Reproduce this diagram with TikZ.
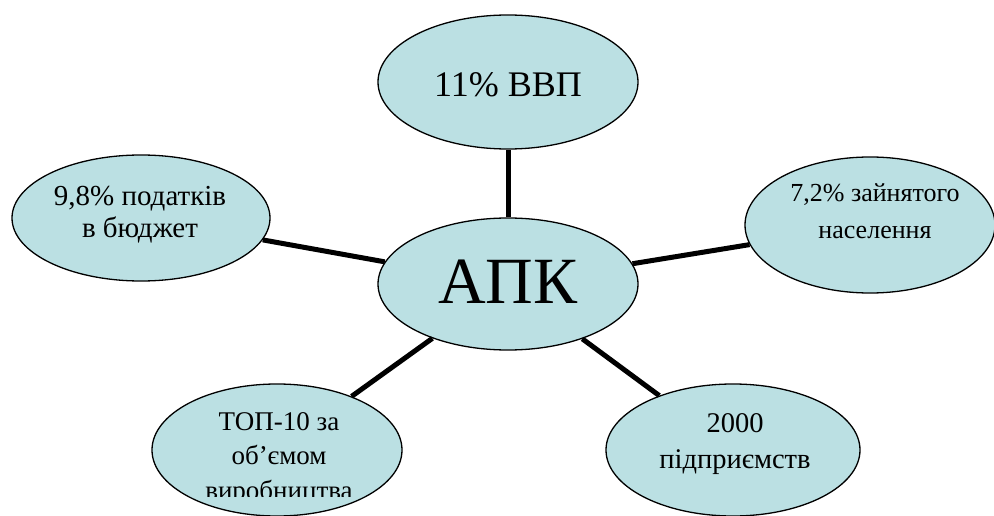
\documentclass[tikz,border=0pt]{standalone}
\usepackage{fontspec}
\setmainfont{Liberation Serif}
\usepackage{tikz}
\usetikzlibrary{shapes.geometric}
\definecolor{bubblefill}{RGB}{187,224,227}

\begin{document}
\begin{tikzpicture}[x=1pt,y=-1pt]
\tikzstyle{bubble}=[ellipse,draw=black,line width=1.3pt,fill=bubblefill,inner sep=0pt]
\tikzstyle{spoke}=[black,line width=5pt]
\tikzstyle{txt}=[inner sep=0pt,align=center,anchor=base]
\useasboundingbox (0,0) rectangle (994,516);
\clip (0,0) rectangle (994,516);
\node [bubble,minimum width=260pt,minimum height=132pt] (apk) at (508,284) {};
\node [bubble,minimum width=260pt,minimum height=134pt] (vvp) at (508,82) {};
\node [bubble,minimum width=258pt,minimum height=126pt] (tax) at (141,218) {};
\node [bubble,minimum width=250pt,minimum height=136pt] (jobs) at (870,225) {};
\node [bubble,minimum width=250pt,minimum height=132pt] (top) at (277,450) {};
\node [bubble,minimum width=254pt,minimum height=132pt] (firms) at (733,450) {};
\draw [spoke] (apk) -- (vvp);
\draw [spoke] (apk) -- (tax);
\draw [spoke] (apk) -- (jobs);
\draw [spoke] (apk) -- (top);
\draw [spoke] (apk) -- (firms);
% base anchor of a multi-line node sits on its last line
\node [txt,font=\fontsize{66}{70}\selectfont] (apktext) at (508,303) {АПК};
\node [txt,font=\fontsize{36}{40}\selectfont] (vvptext) at (508,97) {11\% ВВП};
\node [txt,font=\fontsize{29}{32}\selectfont] (taxtext) at (140,237) {9,8\% податків\\в бюджет};
\node [txt,font=\fontsize{26}{36}\selectfont] (jobstext) at (875,238) {7,2\% зайнятого\\населення};
\node [txt,font=\fontsize{28.5}{36}\selectfont] (firmstext) at (735,468) {2000\\підприємств};
% the last line is cut off at the bottom
\begin{scope}
\clip (0,0) rectangle (994,496.5);
\node [txt,font=\fontsize{27}{34.5}\selectfont] (toptext) at (279,499) {ТОП-10 за\\об’ємом\\виробництва};
\end{scope}
\end{tikzpicture}
\end{document}
